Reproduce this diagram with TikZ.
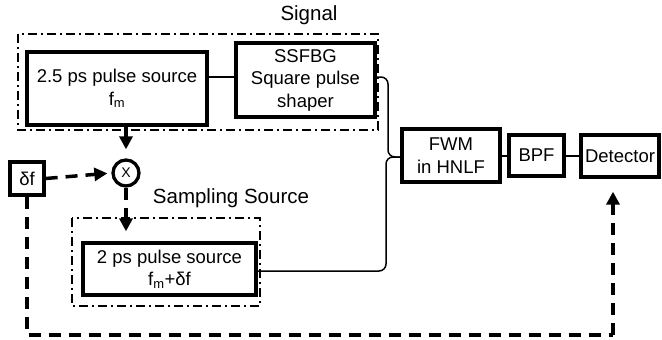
\documentclass[tikz,border=0pt]{standalone}
\usepackage{fontspec}
\setmainfont{Liberation Sans}
\usetikzlibrary{arrows.meta}
\begin{document}
\begin{tikzpicture}[x=1pt,y=-1pt,
  blk/.style={draw,line width=3.3pt,align=center,inner sep=0pt,font=\fontsize{18.5}{22.5}\selectfont},
  grp/.style={draw,line width=1.4pt,dash pattern=on 9pt off 4pt on 2pt off 4pt},
  lbl/.style={font=\fontsize{20.5}{22}\selectfont,inner sep=0pt},
  wire/.style={line width=1.5pt,rounded corners=7pt},
  ctl/.style={line width=3.5pt,dash pattern=on 12pt off 8pt,-{Triangle[length=13pt,width=13pt]}},
  ctlnotip/.style={line width=3.5pt,dash pattern=on 12pt off 8pt}]
\useasboundingbox (0,0) rectangle (662,340);
% group boxes
\draw[grp] (18,34) rectangle (378,130);
\draw[grp] (72,218) rectangle (260,306);
\node[lbl] (siglbl) at (309,15) {Signal};
\node[lbl] (samplbl) at (231,198) {Sampling Source};
% blocks
\node[blk,minimum width=180pt,minimum height=73pt] (src1) at (117,88.5) {2.5 ps pulse source\\f\textsubscript{m}};
\node[blk,minimum width=139pt,minimum height=74pt] (ssfbg) at (305.5,80) {SSFBG\\Square pulse\\shaper};
\node[blk,minimum width=173pt,minimum height=52pt] (src2) at (169.5,269) {2 ps pulse source\\f\textsubscript{m}+δf};
\node[blk,minimum width=34pt,minimum height=33pt] (df) at (27,178.5) {δf};
\node[draw,circle,line width=3.3pt,minimum size=26pt,inner sep=0pt,font=\fontsize{14}{14}\selectfont] (mix) at (126,173) {X};
\node[blk,minimum width=98pt,minimum height=53pt] (fwm) at (451,155.5) {FWM\\in HNLF};
\node[blk,minimum width=55pt,minimum height=41pt] (bpf) at (536.5,155.5) {BPF};
\node[blk,minimum width=78pt,minimum height=42pt] (det) at (620,156) {Detector};
% optical wires
\draw[line width=1.5pt] (src1.east |- 0,77) -- (ssfbg.west |- 0,77);
\draw[wire] (ssfbg.east |- 0,77) -- (388,77) -- (388,157) -- (fwm.west |- 0,157);
\draw[wire] (src2.east |- 0,271) -- (386,271) -- (386,157) -- (fwm.west |- 0,157);
\draw[line width=1.5pt] (fwm.east |- 0,156) -- (bpf.west |- 0,156);
\draw[line width=1.5pt] (bpf.east |- 0,156) -- (det.west |- 0,156);
% electrical / control lines
\draw[ctl,shorten >=9pt] (src1.south -| mix.north) -- (mix.north);
\draw[ctl,shorten >=4pt] (df.east) -- (mix.west);
\draw[ctl,shorten >=10pt] (mix.south) -- (src2.north -| mix.south);
\coordinate (c1) at (27,335);
\coordinate (c2) at (613,335);
\draw[ctlnotip] (df.south) -- (c1) -- (c2);
\draw[ctl,shorten >=13pt] (c2) -- (det.south -| c2);
\end{tikzpicture}
\end{document}
